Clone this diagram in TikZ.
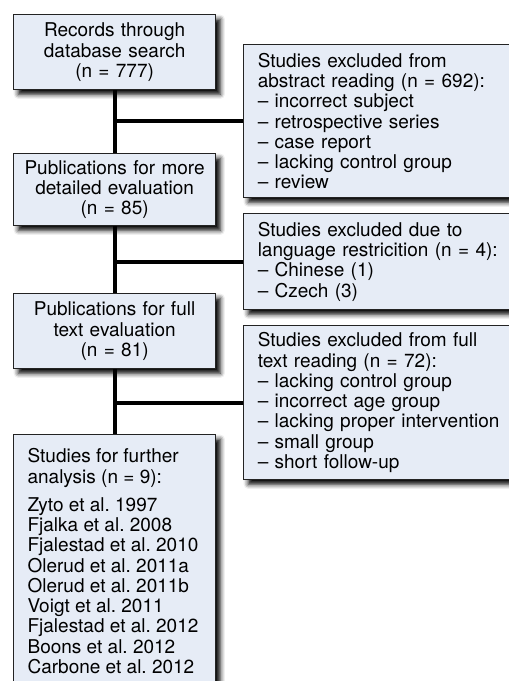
\documentclass[tikz,border=0pt]{standalone}
\usepackage{fontspec}
\setmainfont{TeX Gyre Heros}
\usetikzlibrary{shadows.blur}

\definecolor{boxfill}{RGB}{230,236,246}
\definecolor{boxline}{RGB}{35,35,35}

\tikzset{
  flowbox/.style={draw=boxline, line width=0.9pt, fill=boxfill,
    font=\fontsize{14.25}{15.2}\selectfont,
    blur shadow={shadow xshift=3.5pt, shadow yshift=-3.5pt, shadow blur radius=3.5pt, shadow opacity=100}},
  stagebox/.style={flowbox, anchor=north west, align=center, text width=140pt, inner xsep=5.75pt, inner ysep=0pt, minimum width=151.5pt},
  excludebox/.style={flowbox, anchor=north west, align=left, text width=194pt, inner xsep=10.5pt, inner ysep=0pt, minimum width=215.25pt},
  link/.style={line width=3pt, draw=black}
}

\begin{document}
\begin{tikzpicture}[x=0.75pt,y=0.75pt,yscale=-1,xscale=1]
\path[use as bounding box] (0,0) rectangle (508,681);

%Shape: Rectangle [records]
\node[stagebox, minimum height=56.25pt] (records) at (13,14) {Records through\\database search\\(n = 777)};
%Shape: Rectangle [detailed]
\node[stagebox, minimum height=54pt] (detailed) at (13,153) {Publications for more\\detailed evaluation\\(n = 85)};
%Shape: Rectangle [fulltext]
\node[stagebox, minimum height=56.25pt] (fulltext) at (13,293) {Publications for full\\text evaluation\\(n = 81)};
%Shape: Rectangle [analysis]
\node[flowbox, anchor=north west, inner xsep=10.5pt, inner ysep=10.5pt] (analysis) at (13,434) {\parbox[b][190pt][t]{130.5pt}{\raggedright Studies for further\\analysis (n = 9):\\[6pt]
Zyto et al.\ 1997\\Fjalka et al.\ 2008\\Fjalestad et al.\ 2010\\Olerud et al.\ 2011a\\Olerud et al.\ 2011b\\Voigt et al.\ 2011\\Fjalestad et al.\ 2012\\Boons et al.\ 2012\\Carbone et al.\ 2012}};

%Shape: Rectangle [abstract]
\node[excludebox, minimum height=114.75pt] (abstract) at (243,44) {Studies excluded from\\abstract reading (n = 692):\\-- incorrect subject\\-- retrospective series\\-- case report\\-- lacking control group\\-- review};
%Shape: Rectangle [language]
\node[excludebox, minimum height=72pt] (language) at (243,213) {Studies excluded due to\\language restricition (n = 4):\\-- Chinese (1)\\-- Czech (3)};
%Shape: Rectangle [fullread]
\node[excludebox, minimum height=115.5pt] (fullread) at (243,325) {Studies excluded from full\\text reading (n = 72):\\-- lacking control group\\-- incorrect age group\\-- lacking proper intervention\\-- small group\\-- short follow-up};

%Straight Lines
\draw[link] (records.south) -- (detailed.north);
\draw[link] (abstract.west) -- (abstract.west -| records.south);
\draw[link] (detailed.south) -- (fulltext.north);
\draw[link] (language.west) -- (language.west -| detailed.south);
\draw[link] (fulltext.south) -- (analysis.north);
\draw[link] (fullread.west) -- (fullread.west -| fulltext.south);

\end{tikzpicture}
\end{document}
